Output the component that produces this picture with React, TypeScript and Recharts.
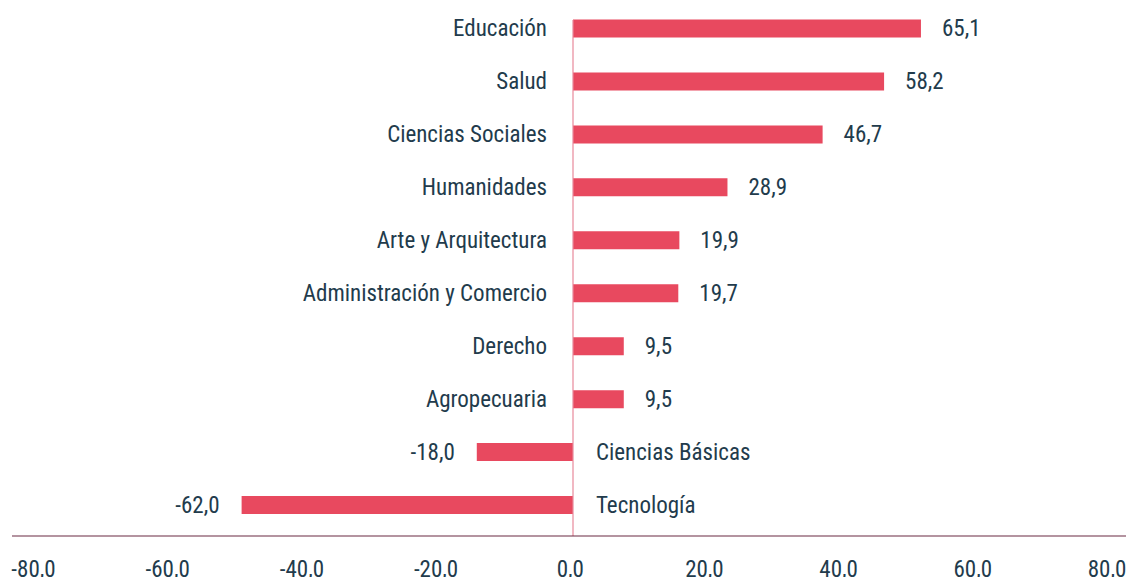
import { BarChart, Bar, XAxis, YAxis, ReferenceLine, LabelList } from 'recharts';

const CATEGORIES = [
  'Educación',
  'Salud',
  'Ciencias Sociales',
  'Humanidades',
  'Arte y Arquitectura',
  'Administración y Comercio',
  'Derecho',
  'Agropecuaria',
  'Ciencias Básicas',
  'Tecnología',
];
const VALUES = [65.1, 58.2, 46.7, 28.9, 19.9, 19.7, 9.5, 9.5, -18.0, -62.0];

// el eje original está rotulado de -80 a 80, pero las barras siguen una escala de -100 a 100
const TICK_VALUES = [-100, -75, -50, -25, 0, 25, 50, 75, 100];
const TICK_LABELS = ['-80,0', '-60,0', '-40,0', '-20,0', '0,0', '20,0', '40,0', '60,0', '80,0'];

const TEXT = '#223b4c';
const BAR = '#e8495f';
const FONT = "'Roboto Condensed', 'Liberation Sans Narrow', Roboto, sans-serif";
const FONT_SIZE = 23;

const data = CATEGORIES.map((name, i) => ({ name, value: VALUES[i] }));

const fmt = (v: number) => v.toFixed(1).replace('.', ',');

const BarLabels = (props: any) => {
  const vb = props.viewBox ?? props;
  const { x, y, width, height } = vb;
  const index = props.index;
  const v = VALUES[index];
  const left = Math.min(x, x + width);
  const right = Math.max(x, x + width);
  const cy = y + height / 2;
  const style = { fontSize: FONT_SIZE, fill: TEXT, fontFamily: FONT };
  if (v >= 0) {
    return (
      <g>
        <text x={left - 26} y={cy} textAnchor="end" dominantBaseline="central" style={style}>
          {CATEGORIES[index]}
        </text>
        <text x={right + 21} y={cy} textAnchor="start" dominantBaseline="central" style={style}>
          {fmt(v)}
        </text>
      </g>
    );
  }
  return (
    <g>
      <text x={right + 23} y={cy} textAnchor="start" dominantBaseline="central" style={style}>
        {CATEGORIES[index]}
      </text>
      <text x={left - 22} y={cy} textAnchor="end" dominantBaseline="central" style={style}>
        {fmt(v)}
      </text>
    </g>
  );
};

const ZeroLine = (p: any) => (
  <line
    x1={p.x1}
    x2={p.x2}
    y1={Math.min(p.y1, p.y2) + 17.5}
    y2={Math.max(p.y1, p.y2)}
    stroke="#e8899a"
    strokeWidth={1.2}
  />
);

export default function App() {
  return (
    <div style={{ position: 'absolute', left: 0, top: 0, fontFamily: FONT }}>
      <BarChart
        width={1128}
        height={577}
        data={data}
        layout="vertical"
        margin={{ top: 2.5, right: 2, left: 12, bottom: 11 }}
      >
        {/* eje visible con los rótulos */}
        <XAxis
          xAxisId="labels"
          type="number"
          domain={[-100, 100]}
          allowDataOverflow
          ticks={TICK_VALUES}
          tickFormatter={(_v: number, i: number) => TICK_LABELS[i]}
          axisLine={{ stroke: '#6b2b42', strokeWidth: 1.2 }}
          tickLine={false}
          tickMargin={19}
          height={30}
          padding={{ left: 21.5, right: 19 }}
          tick={{ fontSize: FONT_SIZE, fill: TEXT, fontFamily: FONT }}
          interval={0}
        />
        {/* eje oculto de las barras (desplazado 3px como en el original) */}
        <XAxis
          xAxisId="bars"
          type="number"
          orientation="top"
          height={0}
          domain={[-100, 100]}
          allowDataOverflow
          hide
          padding={{ left: 26.5, right: 18.5 }}
        />
        <YAxis type="category" dataKey="name" hide padding={{ top: 0, bottom: 4 }} />
        <Bar xAxisId="bars" dataKey="value" fill={BAR} barSize={18} isAnimationActive={false}>
          <LabelList dataKey="value" content={<BarLabels />} />
        </Bar>
        <ReferenceLine xAxisId="bars" x={0} shape={<ZeroLine />} />
      </BarChart>
    </div>
  );
}
